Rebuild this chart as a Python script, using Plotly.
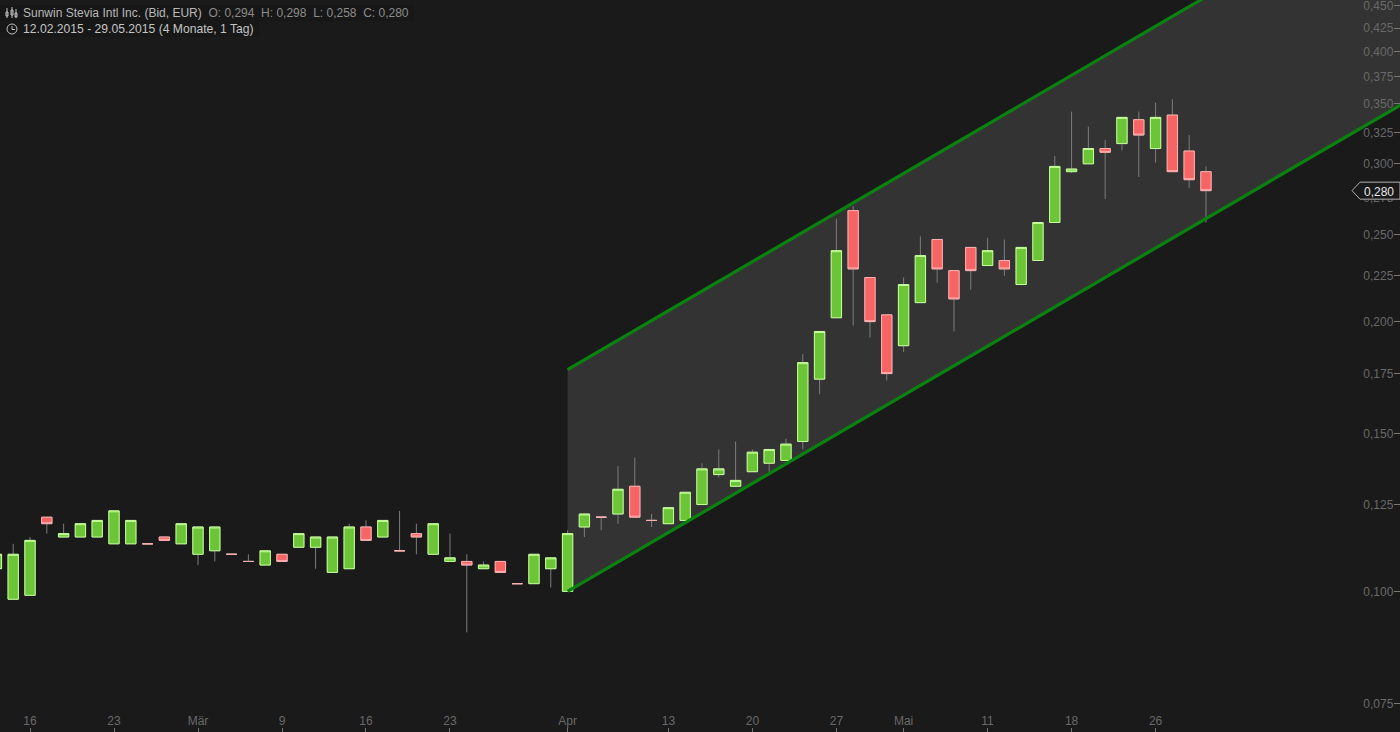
import plotly.graph_objects as go

dates = ["12.02","13.02","16.02","17.02","18.02","19.02","20.02","23.02","24.02","25.02","26.02","27.02",
         "02.03","03.03","04.03","05.03","06.03","09.03","10.03","11.03","12.03","13.03",
         "16.03","17.03","18.03","19.03","20.03","23.03","24.03","25.03","26.03","27.03",
         "30.03","31.03","01.04","02.04","07.04","08.04","09.04","10.04",
         "13.04","14.04","15.04","16.04","17.04","20.04","21.04","22.04","23.04","24.04",
         "27.04","28.04","29.04","30.04","04.05","05.05","06.05","07.05","08.05",
         "11.05","12.05","13.05","14.05","15.05","18.05","19.05","20.05","21.05","22.05",
         "26.05","27.05","28.05","29.05"]
open_ = [.106,.098,.099,.121,.115,.115,.115,.113,.113,.113,.115,.113,.110,.111,.110,.108,.107,.110,.112,.112,
         .105,.106,.118,.115,.111,.116,.110,.108,.108,.106,.108,.102,.102,.106,.100,.118,.121,.122,.131,.120,
         .119,.120,.125,.135,.131,.136,.139,.140,.147,.1725,.202,.266,.224,.2035,.188,.210,.247,.228,.242,
         .231,.234,.220,.234,.258,.294,.300,.312,.316,.336,.312,.340,.310,.294]
close = [.110,.110,.114,.119,.116,.119,.120,.123,.120,.113,.114,.119,.118,.118,.110,.108,.111,.108,.116,.115,
         .115,.118,.114,.120,.111,.115,.119,.109,.107,.107,.105,.102,.110,.109,.116,.122,.121,.130,.121,.120,
         .124,.129,.137,.137,.133,.143,.144,.146,.180,.195,.240,.229,.200,.175,.220,.237,.229,.212,.228,
         .240,.229,.242,.258,.298,.296,.312,.309,.338,.323,.338,.294,.288,.280]
high = [.110,.113,.115,.121,.119,.119,.120,.123,.120,.113,.115,.119,.118,.118,.110,.110,.111,.110,.116,.115,
        .115,.119,.120,.120,.123,.119,.119,.116,.110,.108,.108,.102,.110,.109,.117,.122,.121,.138,.141,.122,
        .124,.129,.139,.144,.147,.144,.144,.148,.184,.195,.2605,.269,.224,.2035,.224,.249,.247,.228,.242,
        .248,.247,.242,.258,.306,.343,.330,.319,.338,.343,.351,.354,.323,.298]
low = [.106,.098,.099,.116,.115,.115,.115,.113,.113,.113,.114,.113,.107,.108,.110,.108,.107,.108,.112,.106,
       .105,.106,.114,.115,.111,.110,.110,.108,.090,.106,.105,.102,.102,.101,.100,.115,.117,.119,.121,.118,
       .119,.120,.125,.134,.131,.136,.136,.140,.144,.166,.202,.198,.192,.172,.185,.210,.221,.195,.217,
       .231,.225,.220,.234,.258,.293,.300,.274,.3105,.290,.301,.294,.282,.258]

tick_dates = ["16.02","23.02","02.03","09.03","16.03","23.03","01.04","13.04","20.04","27.04","04.05","11.05","18.05","26.05"]
tick_labels = ["16","23","Mär","9","16","23","Apr","13","20","27","Mai","11","18","26"]
price_ticks = [.075,.100,.125,.150,.175,.200,.225,.250,.275,.300,.325,.350,.375,.400,.425,.450]

channel_dates = [34, 92]
channel_lower = [.100, .4314]
channel_upper = [.1768, .7628]
last_close = .280

BG = "#1a1a1a"
AXIS = "#696969"
YRANGE = [-1.1569, -0.3401]
x = list(range(len(dates)))
body_high = [max(o, c) for o, c in zip(open_, close)]
body_low = [min(o, c) for o, c in zip(open_, close)]

fig = go.Figure()
fig.add_trace(go.Scatter(x=channel_dates + channel_dates[::-1], y=channel_lower + channel_upper[::-1],
                         mode="lines", fill="toself", fillcolor="#333333", line=dict(width=0),
                         hoverinfo="skip", showlegend=False, yaxis="y"))
grey = dict(line=dict(color="#7c7c7c", width=1), fillcolor="rgba(0,0,0,0)")
fig.add_trace(go.Candlestick(x=x, open=open_, high=high, low=low, close=close, increasing=grey,
                             decreasing=grey, whiskerwidth=0, showlegend=False, hoverinfo="skip", yaxis="y2"))
fig.add_trace(go.Candlestick(x=x, open=open_, high=body_high, low=body_low, close=close,
                             increasing=dict(line=dict(color="#c4ff98", width=1), fillcolor="#6cc437"),
                             decreasing=dict(line=dict(color="#ffb0b0", width=1), fillcolor="#f66464"),
                             whiskerwidth=0, showlegend=False, yaxis="y2"))
for ys in (channel_lower, channel_upper):
    fig.add_trace(go.Scatter(x=channel_dates, y=ys, mode="lines", line=dict(color="#0a820f", width=3.2),
                             hoverinfo="skip", showlegend=False, yaxis="y2"))

shapes = []
def pix(path, **kw):
    shapes.append(dict(type="path", path=path, xref="paper", yref="paper", xsizemode="pixel", ysizemode="pixel",
                       xanchor=0, yanchor=1, **kw))
# header backdrops
for x1, y0, y1 in ((414, 5, 21), (260, 21, 37)):
    shapes.append(dict(type="rect", xref="paper", yref="paper", x0=0, x1=x1/1400, y0=1-y1/732, y1=1-y0/732,
                       fillcolor="#171717", line=dict(width=0), layer="below"))
# price tag on the axis
shapes.append(dict(type="path", xref="paper", yref="y", xsizemode="pixel", ysizemode="pixel", xanchor=1,
                   yanchor=last_close, path="M -48 0 L -40 -8.5 L 0 -8.5 L 0 8.5 L -40 8.5 Z",
                   fillcolor=BG, line=dict(color="#b0b0b0", width=1)))
# header icons
icon = dict(line=dict(color="#c0c0c0", width=1), fillcolor="rgba(0,0,0,0)")
pix("M 7 -8 L 7 -18 M 12 -7 L 12 -18 M 16 -9 L 16 -18 M 6 -12 L 8 -12 L 8 -16 L 6 -16 Z M 11 -10 L 13 -10 L 13 -15 L 11 -15 Z M 15 -13 L 17 -13 L 17 -17 L 15 -17 Z", **icon)
pix("M 12 -26 L 12 -29.5 L 15 -29.5", **icon)
shapes.append(dict(type="circle", xref="paper", yref="paper", xsizemode="pixel", ysizemode="pixel", xanchor=0,
                   yanchor=1, x0=7, x1=17, y0=-34, y1=-24, **icon))

fig.update_layout(
    width=1400, height=732, margin=dict(l=0, r=0, t=0, b=0), paper_bgcolor=BG, plot_bgcolor=BG,
    font=dict(family="Liberation Sans", size=12, color=AXIS), separators=", ", showlegend=False,
    boxmode="overlay", boxgap=0.12,
    xaxis=dict(range=[0.214, 83.55], tickmode="array", tickvals=[dates.index(d) for d in tick_dates],
               ticktext=tick_labels, ticks="inside", ticklen=4, tickcolor="#777777", tickwidth=1,
               ticklabelposition="inside", ticklabeloverflow="allow", showgrid=False, zeroline=False,
               showline=False, rangeslider=dict(visible=False), tickangle=0, tickfont=dict(color=AXIS)),
    yaxis=dict(type="log", side="right", range=YRANGE, tickmode="array", tickvals=price_ticks,
               tickformat=".3f", ticks="inside", ticklen=6, tickcolor="#777777", tickwidth=1,
               ticklabelposition="inside", ticklabeloverflow="allow", showgrid=False, zeroline=False,
               showline=False, tickfont=dict(color=AXIS)),
    yaxis2=dict(type="log", side="right", overlaying="y", range=YRANGE, visible=False),
    shapes=shapes,
    annotations=[
        dict(xref="paper", yref="paper", x=21/1400, y=1-13/732, xanchor="left", yanchor="middle", showarrow=False,
             text='<span style="color:#b8b8b8">Sunwin Stevia Intl Inc. (Bid, EUR)</span>'
                  '<span style="color:#8c8c8c">  O: 0,294  H: 0,298  L: 0,258  C: 0,280</span>',
             font=dict(size=12)),
        dict(xref="paper", yref="paper", x=21/1400, y=1-29/732, xanchor="left", yanchor="middle", showarrow=False,
             text="12.02.2015 - 29.05.2015 (4 Monate, 1 Tag)", font=dict(size=12.15, color="#c4c4c4")),
        dict(xref="paper", yref="paper", x=1379/1400, y=1-192/732, xanchor="center", yanchor="middle",
             showarrow=False, text="0,280", font=dict(size=12, color="#e6e6e6")),
    ],
)
fig.write_html("out.html", config=dict(displayModeBar=False),
               post_script="document.body.style.margin='0';document.body.style.overflow='hidden';")
